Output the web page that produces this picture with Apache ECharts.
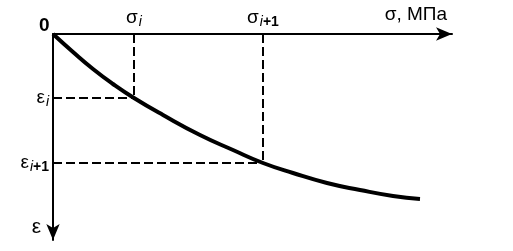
<!DOCTYPE html>
<html><head><meta charset="utf-8">
<script src="https://cdn.jsdelivr.net/npm/echarts@6/dist/echarts.min.js"></script>
<style>html,body{margin:0;padding:0;background:#fff}#c{width:513px;height:251px}</style>
</head><body><div id="c"></div>
<script>
// curve: stress (sigma) vs strain (epsilon), arbitrary units
const sigmaValues = [0, 20, 40, 60, 81, 110, 147, 180, 210, 240, 274, 307, 340, 367];
const epsValues   = [0, 18, 35, 50, 64, 81, 101, 116, 129, 139, 149, 156, 162, 165];
// marked points i and i+1
const markSigma = [81, 210];
const markEps = [64, 129];
const markLabels = ['i', 'i+1'];
const xAxisName = 'σ, МПа';
const yAxisName = 'ε';
const originLabel = '0';

const chart = echarts.init(document.getElementById('c'), null, {renderer: 'canvas'});
const FONT = '"Liberation Sans", Arial, sans-serif';

const curve = sigmaValues.map((s, k) => [s, epsValues[k]]);
const dashSeries = [];
markSigma.forEach((s, k) => {
  const e = markEps[k];
  dashSeries.push({
    type: 'line', data: [[s, 0], [s, e]], symbol: 'none', silent: true,
    lineStyle: {color: '#000', width: 2, type: [9, 4]}, z: 1
  });
  dashSeries.push({
    type: 'line', data: [[0, e], [s, e]], symbol: 'none', silent: true,
    lineStyle: {color: '#000', width: 2, type: [9, 4]}, z: 1
  });
});

const rich = {
  g: {fontFamily: FONT, fontSize: 19, color: '#000'},
  s: {fontFamily: FONT, fontSize: 14, fontStyle: 'italic', color: '#000', padding: [9, 0, 0, 1]},
  n: {fontFamily: FONT, fontSize: 14, fontWeight: 'bold', color: '#000', padding: [9, 0, 0, 0]}
};
function subLabel(sym, sub) {
  let out = '{g|' + sym + '}{s|' + sub[0] + '}';
  if (sub.length > 1) out += '{n|' + sub.slice(1) + '}';
  return out;
}

chart.setOption({
  animation: false,
  backgroundColor: '#fff',
  grid: {left: 53, top: 34, width: 399, height: 206},
  xAxis: {
    type: 'value', position: 'top', min: 0, max: 399,
    axisLine: {onZero: false, symbol: ['none', 'arrow'], symbolSize: [10, 16],
      lineStyle: {color: '#000', width: 2}},
    axisTick: {show: false},
    splitLine: {show: false},
    axisLabel: {customValues: markSigma, margin: 5, rich: rich,
      formatter: v => { const k = markSigma.indexOf(v); return k < 0 ? '' : subLabel('σ', markLabels[k]); }},
    name: xAxisName, nameLocation: 'end', nameGap: 0,
    nameTextStyle: {fontFamily: FONT, fontSize: 19, color: '#000', align: 'right',
      verticalAlign: 'bottom', padding: [0, 5, 10, 0]}
  },
  yAxis: {
    type: 'value', inverse: true, min: 0, max: 206,
    axisLine: {onZero: false, symbol: ['arrow', 'none'], symbolSize: [10, 16],
      lineStyle: {color: '#000', width: 2}},
    axisTick: {show: false},
    splitLine: {show: false},
    axisLabel: {customValues: markEps, margin: 4, rich: rich,
      formatter: v => { const k = markEps.indexOf(v); return k < 0 ? '' : subLabel('ε', markLabels[k]); }},
    name: yAxisName, nameLocation: 'end', nameGap: 0,
    nameTextStyle: {fontFamily: FONT, fontSize: 21, color: '#000', align: 'right',
      verticalAlign: 'bottom', padding: [0, 12, 2, 0]}
  },
  graphic: [{
    type: 'text', left: 39, top: 16,
    style: {text: originLabel, font: 'bold 19px ' + FONT, fill: '#000'}
  }],
  series: [{
    type: 'line', data: curve, smooth: true, symbol: 'none', silent: true,
    lineStyle: {color: '#000', width: 4}, z: 3
  }].concat(dashSeries)
});
</script></body></html>
